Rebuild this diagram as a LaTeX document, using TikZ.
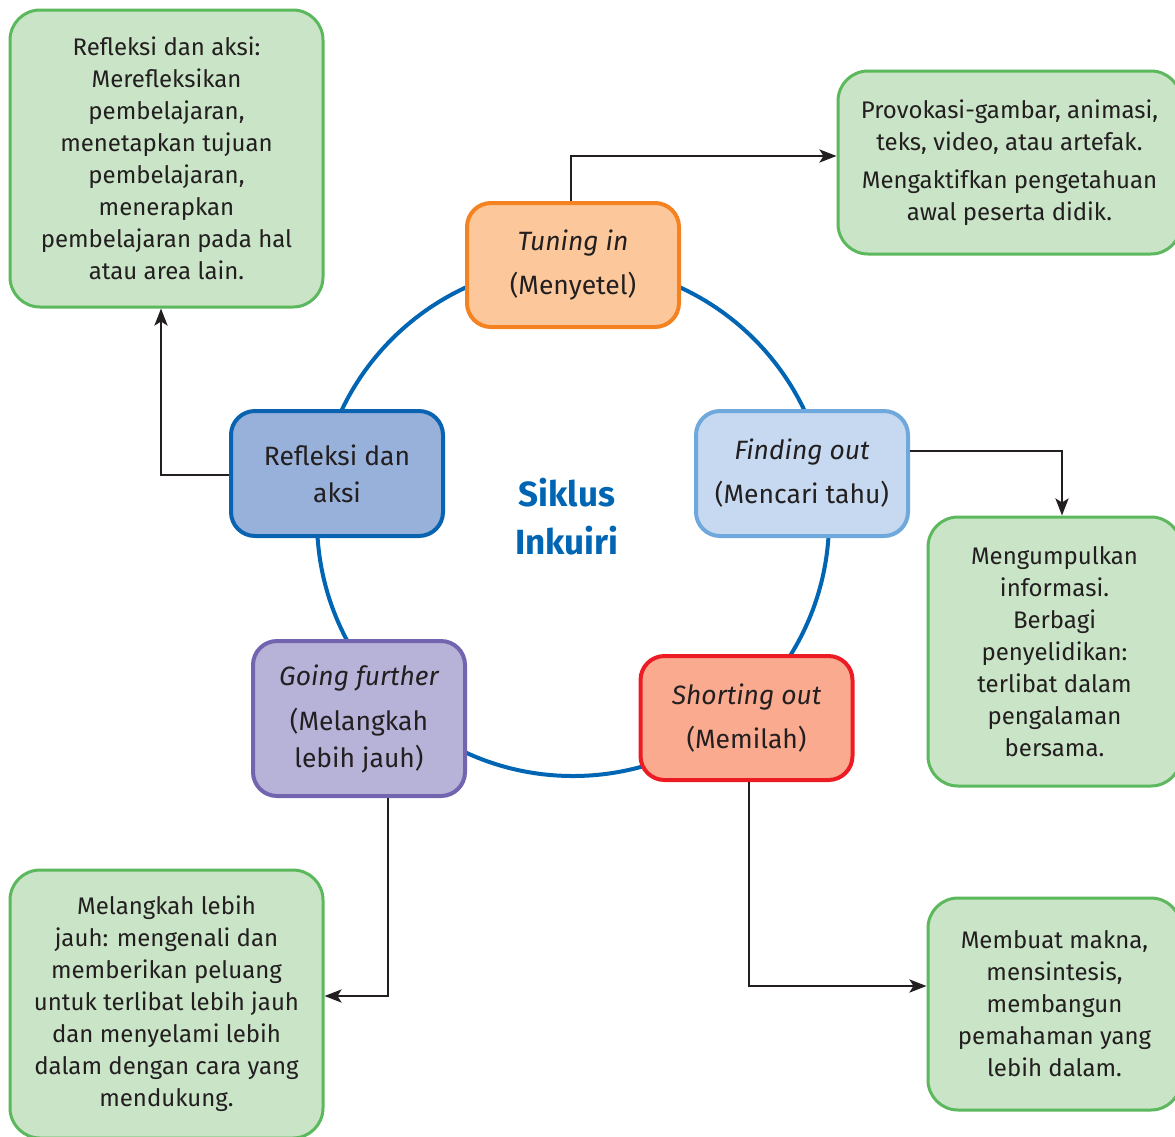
\documentclass[tikz,border=0pt]{standalone}
\usepackage{fontspec}
\setmainfont{Fira Sans}
\usetikzlibrary{arrows.meta}

\definecolor{inktext}{HTML}{231F20}
\definecolor{cycleblue}{HTML}{0065B3}
\definecolor{notefill}{HTML}{C9E4C6}
\definecolor{noteline}{HTML}{5CB85C}
\definecolor{tunfill}{HTML}{FCC89B}
\definecolor{tunline}{HTML}{F58220}
\definecolor{findfill}{HTML}{C6D9F0}
\definecolor{findline}{HTML}{6FA8DC}
\definecolor{sortfill}{HTML}{F9AA8F}
\definecolor{sortline}{HTML}{ED1C24}
\definecolor{gofill}{HTML}{B7B2D8}
\definecolor{goline}{HTML}{7364B0}
\definecolor{reffill}{HTML}{97B1DB}
\definecolor{refline}{HTML}{0A63B0}

\tikzset{
  notebox/.style={draw=noteline, fill=notefill, line width=3pt, rounded corners=30pt,
    inner sep=0pt, align=center, text=inktext, font=\fontsize{24}{32}\selectfont},
  stagebox/.style={line width=4pt, rounded corners=24pt, inner sep=0pt, align=center,
    text=inktext, minimum width=212pt, font=\fontsize{26.5}{37}\selectfont},
  link/.style={draw=inktext, line width=2.8pt, -{Stealth[length=17pt,width=13pt,inset=4pt]}},
}

\begin{document}
\begin{tikzpicture}[x=1pt,y=-1pt]
\useasboundingbox (0,0) rectangle (1175,1136);

% the cycle
\draw[cycleblue, line width=4pt] (573,520) circle[radius=256];

% stages of the cycle
\node[stagebox, draw=tunline, fill=tunfill, minimum height=124pt] (tun) at (573,265)
  {\itshape Tuning in\\[7pt](Menyetel)};
\node[stagebox, draw=findline, fill=findfill, minimum height=125pt] (find) at (802,473.5)
  {\itshape Finding out\\[7pt](Mencari tahu)};
\node[stagebox, draw=sortline, fill=sortfill, minimum height=124pt] (sort) at (746.5,718)
  {\itshape Shorting out\\[7pt](Memilah)};
\node[stagebox, draw=goline, fill=gofill, minimum height=155pt] (go) at (359,718.5)
  {\itshape Going further\\[8pt](Melangkah\\lebih jauh)};
\node[stagebox, draw=refline, fill=reffill, minimum height=125pt] (ref) at (337,473.5)
  {Refleksi dan\\aksi};

% centre title
\node[text=cycleblue, align=center, font=\fontsize{35}{48}\selectfont\bfseries] (title) at (567,517)
  {Siklus\\Inkuiri};

% explanatory notes
\node[notebox, minimum width=313pt, minimum height=297pt] (nref) at (166.5,158.5)
  {Refleksi dan aksi:\\Merefleksikan\\pembelajaran,\\menetapkan tujuan\\pembelajaran,\\menerapkan\\pembelajaran pada hal\\atau area lain.};
\node[notebox, minimum width=343pt, minimum height=183pt] (ntun) at (1009.5,162.5)
  {Provokasi-gambar, animasi,\\teks, video, atau artefak.\\[6pt]Mengaktifkan pengetahuan\\awal peserta didik.};
\node[notebox, minimum width=253pt, minimum height=269pt] (nfind) at (1054.5,651.5)
  {Mengumpulkan\\informasi.\\Berbagi\\penyelidikan:\\terlibat dalam\\pengalaman\\bersama.};
\node[notebox, minimum width=253pt, minimum height=212pt] (nsort) at (1054.5,1004)
  {Membuat makna,\\mensintesis,\\membangun\\pemahaman yang\\lebih dalam.};
\node[notebox, minimum width=313pt, minimum height=268pt] (ngo) at (166.5,1004)
  {Melangkah lebih\\jauh: mengenali dan\\memberikan peluang\\untuk terlibat lebih jauh\\dan menyelami lebih\\dalam dengan cara yang\\mendukung.};

% connectors from each stage to its note
\draw[link] ([xshift=-2pt]tun.north) |- ([yshift=6.5pt]ntun.west);
\draw[link] ([yshift=22.5pt]find.east) -| ([xshift=7.5pt]nfind.north);
\draw[link] ([xshift=2.5pt]sort.south) |- ([yshift=18pt]nsort.west);
\draw[link] ([xshift=29pt]go.south) |- ([yshift=8pt]ngo.east);
\draw[link] ([yshift=-1.5pt]ref.west) -| ([xshift=-5.5pt]nref.south);
\end{tikzpicture}
\end{document}
